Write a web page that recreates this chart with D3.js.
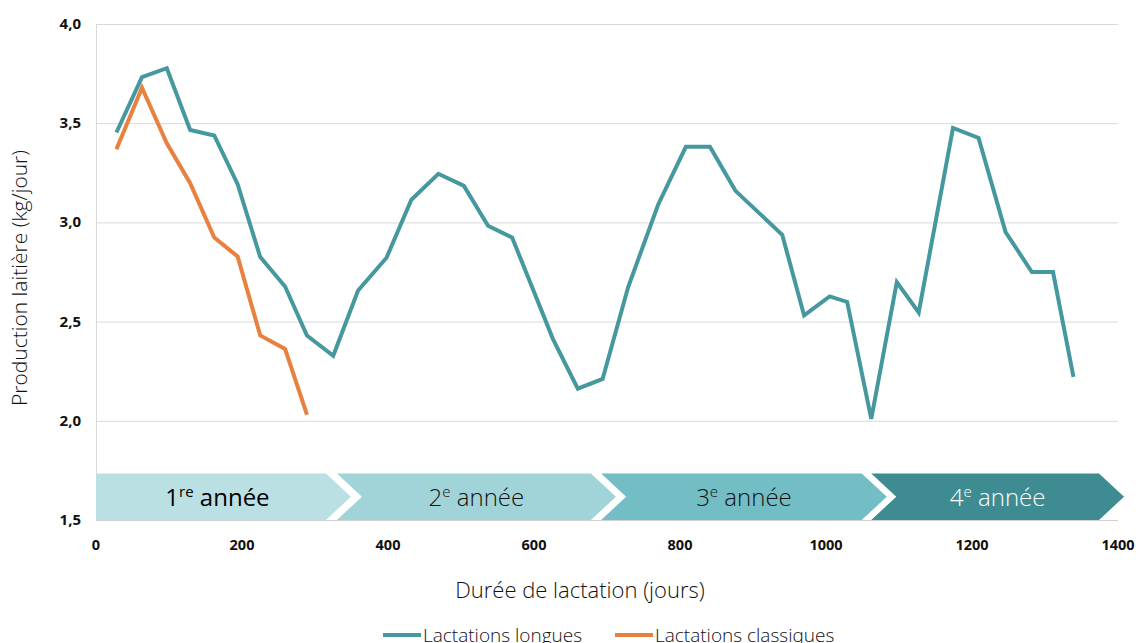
<!DOCTYPE html>
<html><head><meta charset="utf-8">
<script src="https://cdn.jsdelivr.net/npm/d3@7"></script>
<style>
body{margin:0;background:#fff;}
svg{display:block;font-family:"Open Sans",sans-serif;}
</style></head>
<body><svg id="c" width="1138" height="643"></svg>
<script>
// ---- data ----
const longDays = [28,63,97,129,162,194,225,259,289,325,359,398,432,469,504,537,570,626,660,694,729,770,808,841,876,940,970,1005,1029,1062,1097,1127,1174,1209,1246,1282,1311,1339];
const longVals = [3.453,3.732,3.777,3.466,3.438,3.193,2.825,2.677,2.430,2.328,2.657,2.822,3.114,3.245,3.184,2.983,2.924,2.412,2.162,2.211,2.674,3.089,3.381,3.381,3.159,2.938,2.531,2.627,2.599,2.010,2.699,2.546,3.476,3.426,2.951,2.750,2.750,2.221];
const classDays = [28,63,97,129,162,194,225,259,289];
const classVals = [3.369,3.679,3.399,3.198,2.924,2.828,2.430,2.362,2.031];
const yTicks = [1.5,2.0,2.5,3.0,3.5,4.0];
const xTicks = [0,200,400,600,800,1000,1200,1400];
const bannerStart = [0,330,692,1062];
const bannerEnd = [315,678,1049,1374];
const bannerNum = ["1","2","3","4"];
const bannerSup = ["re","e","e","e"];
const bannerColors = ["#bbe0e3","#a1d4d8","#72bec4","#3e8c91"];
const bannerText = ["#000","#111","#111","#fff"];
const bannerWeight = [400,300,300,300];
const bannerTop = 1.735;
const seriesNames = ["Lactations longues","Lactations classiques"];
const seriesColors = ["#46989f","#e8803f"];

// ---- layout ----
const svg = d3.select("#c");
const L=96,R=1118,T=24,B=520;
const x = d3.scaleLinear().domain([0,1400]).range([L,R]);
const y = d3.scaleLinear().domain([1.5,4.0]).range([B,T]);
const fmt = d => d.toFixed(1).replace(".",",");

// gridlines
svg.append("g").selectAll("line").data(yTicks.filter(d=>d>1.5)).join("line")
  .attr("x1",L).attr("x2",R).attr("y1",d=>y(d)+0.5).attr("y2",d=>y(d)+0.5)
  .attr("stroke","#d9d9d9").attr("stroke-width",1);
// left axis line
svg.append("line").attr("x1",L+0.5).attr("x2",L+0.5).attr("y1",T).attr("y2",B)
  .attr("stroke","#d9d9d9");

// banners
const depth = 25;
const bt = y(bannerTop), bb = y(1.5), bm=(bt+bb)/2;
const bg = svg.append("g");
bannerStart.forEach((s,i)=>{
  const x0=x(s), x1=x(bannerEnd[i]);
  const notch = i===0?0:depth;
  const pts = [[x0,bt],[x1,bt],[x1+depth,bm],[x1,bb],[x0,bb],[x0+notch,bm]];
  bg.append("path").attr("d","M"+pts.map(p=>p.join(",")).join("L")+"Z")
    .attr("fill",bannerColors[i]);
  const cx = (x0 + x1 + depth)/2 - (i===0?6:0);
  const t = bg.append("text").attr("x",cx).attr("y",bm+9)
    .attr("text-anchor","middle").attr("font-size",24)
    .attr("font-weight",bannerWeight[i]).attr("fill",bannerText[i]);
  t.append("tspan").text(bannerNum[i]);
  t.append("tspan").attr("dy",-9).attr("font-size",15).text(bannerSup[i]);
  t.append("tspan").attr("dy",9).text(" année");
});
// bottom axis line
svg.append("line").attr("x1",L).attr("x2",R).attr("y1",B+0.5).attr("y2",B+0.5)
  .attr("stroke","#d0d0d0");

// y tick labels
svg.append("g").selectAll("text").data(yTicks).join("text")
  .attr("x",81).attr("y",d=>y(d)+5).attr("text-anchor","end")
  .attr("font-size",15).attr("font-weight",700).attr("fill","#111").text(fmt);
// x tick labels
svg.append("g").selectAll("text").data(xTicks).join("text")
  .attr("x",d=>x(d)).attr("y",550).attr("text-anchor","middle")
  .attr("font-size",14.5).attr("font-weight",700).attr("fill","#111").text(d=>d);

// lines
const line = d3.line().x(d=>x(d[0])).y(d=>y(d[1]));
svg.append("path").datum(longDays.map((d,i)=>[d,longVals[i]])).attr("d",line)
  .attr("fill","none").attr("stroke",seriesColors[0]).attr("stroke-width",4).attr("stroke-linejoin","miter");
svg.append("path").datum(classDays.map((d,i)=>[d,classVals[i]])).attr("d",line)
  .attr("fill","none").attr("stroke",seriesColors[1]).attr("stroke-width",4).attr("stroke-linejoin","miter");

// axis titles
svg.append("text").attr("transform","translate(27,278) rotate(-90)")
  .attr("text-anchor","middle").attr("font-size",21).attr("fill","#111")
  .attr("font-weight",300).text("Production laitière (kg/jour)");
svg.append("text").attr("x",580).attr("y",598).attr("text-anchor","middle")
  .attr("font-size",22).attr("fill","#111").attr("font-weight",300)
  .text("Durée de lactation (jours)");

// legend
const lg = svg.append("g");
const legX = [383,615];
seriesNames.forEach((n,i)=>{
  lg.append("line").attr("x1",legX[i]).attr("x2",legX[i]+38).attr("y1",635).attr("y2",635)
    .attr("stroke",seriesColors[i]).attr("stroke-width",4);
  lg.append("text").attr("x",legX[i]+40).attr("y",642).attr("font-size",19)
    .attr("font-weight",300).attr("fill","#111").text(n);
});
</script></body></html>
